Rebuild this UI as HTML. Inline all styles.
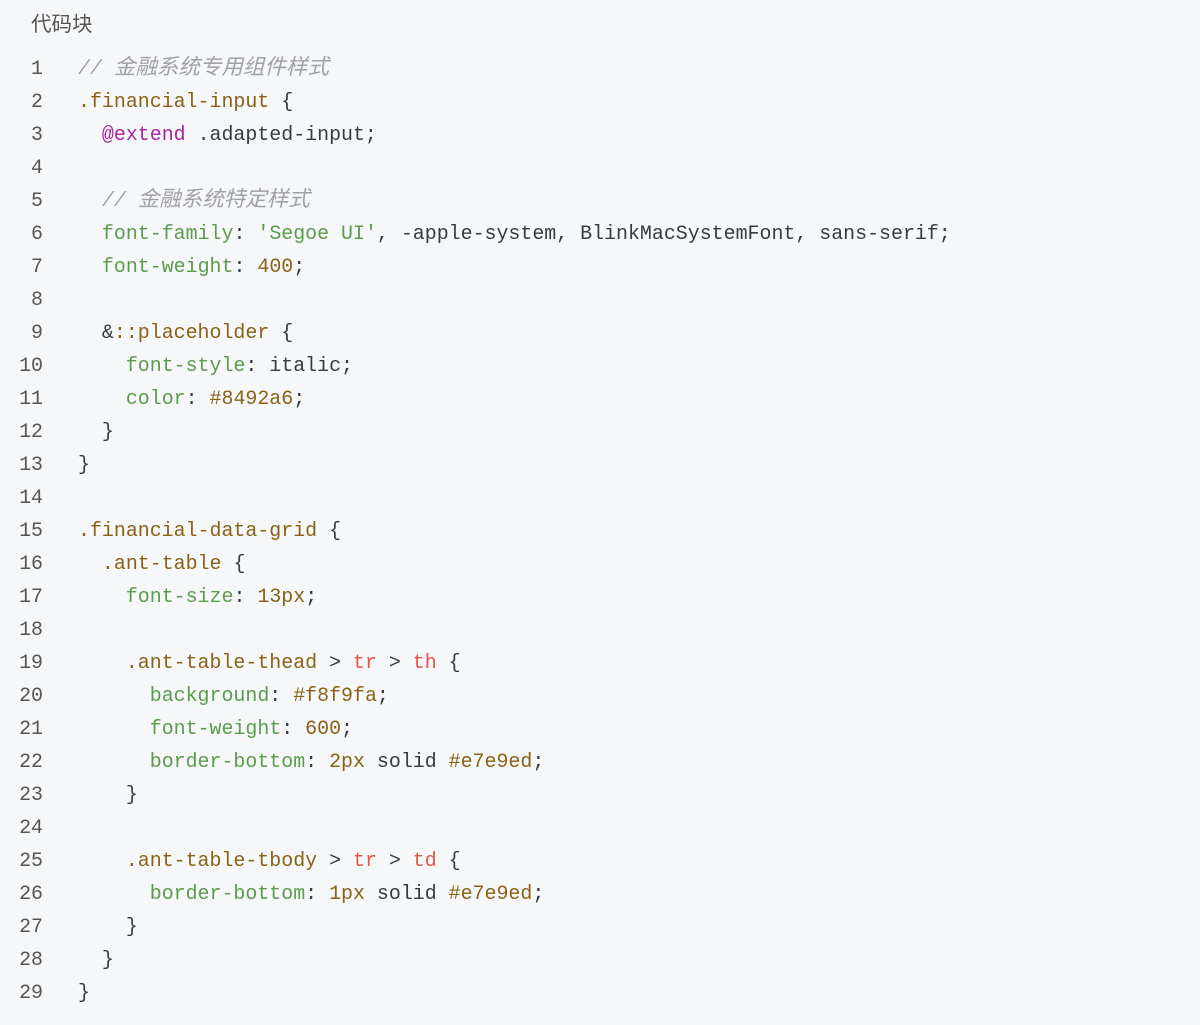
<!DOCTYPE html>
<html><head><meta charset="utf-8"><style>
html,body{margin:0;padding:0;background:#f6f7f9;width:1200px;height:1025px;overflow:hidden}
.t{position:absolute;left:31px;top:7px;font:20.5px "Liberation Sans","Noto Sans CJK SC",sans-serif;color:#555}
.c{position:absolute;left:0;top:52px;font:19.93px/33px "Liberation Mono","Noto Sans CJK SC",monospace;color:#383a42;white-space:pre}
.n{display:inline-block;width:43px;text-align:right;color:#555;margin-right:35px}
.cm{color:#a0a1a7;font-style:italic}
.cj{font-size:21.5px;line-height:0}
.s{color:#8a6216}
.p{color:#5b9b4c}
.v{color:#8a6216}
.k{color:#a626a4}
.r{color:#e45649}
</style></head><body>
<div class="t">代码块</div>
<div class="c"><span class="n">1</span><span class="cm">// <span class="cj">金融系统专用组件样式</span></span>
<span class="n">2</span><span class="s">.financial-input</span> {
<span class="n">3</span>  <span class="k">@extend</span> .adapted-input;
<span class="n">4</span>
<span class="n">5</span>  <span class="cm">// <span class="cj">金融系统特定样式</span></span>
<span class="n">6</span>  <span class="p">font-family</span>: <span class="p">'Segoe UI'</span>, -apple-system, BlinkMacSystemFont, sans-serif;
<span class="n">7</span>  <span class="p">font-weight</span>: <span class="v">400</span>;
<span class="n">8</span>
<span class="n">9</span>  &amp;<span class="s">::placeholder</span> {
<span class="n">10</span>    <span class="p">font-style</span>: italic;
<span class="n">11</span>    <span class="p">color</span>: <span class="v">#8492a6</span>;
<span class="n">12</span>  }
<span class="n">13</span>}
<span class="n">14</span>
<span class="n">15</span><span class="s">.financial-data-grid</span> {
<span class="n">16</span>  <span class="s">.ant-table</span> {
<span class="n">17</span>    <span class="p">font-size</span>: <span class="v">13px</span>;
<span class="n">18</span>
<span class="n">19</span>    <span class="s">.ant-table-thead</span> &gt; <span class="r">tr</span> &gt; <span class="r">th</span> {
<span class="n">20</span>      <span class="p">background</span>: <span class="v">#f8f9fa</span>;
<span class="n">21</span>      <span class="p">font-weight</span>: <span class="v">600</span>;
<span class="n">22</span>      <span class="p">border-bottom</span>: <span class="v">2px</span> solid <span class="v">#e7e9ed</span>;
<span class="n">23</span>    }
<span class="n">24</span>
<span class="n">25</span>    <span class="s">.ant-table-tbody</span> &gt; <span class="r">tr</span> &gt; <span class="r">td</span> {
<span class="n">26</span>      <span class="p">border-bottom</span>: <span class="v">1px</span> solid <span class="v">#e7e9ed</span>;
<span class="n">27</span>    }
<span class="n">28</span>  }
<span class="n">29</span>}</div>
</body></html>
